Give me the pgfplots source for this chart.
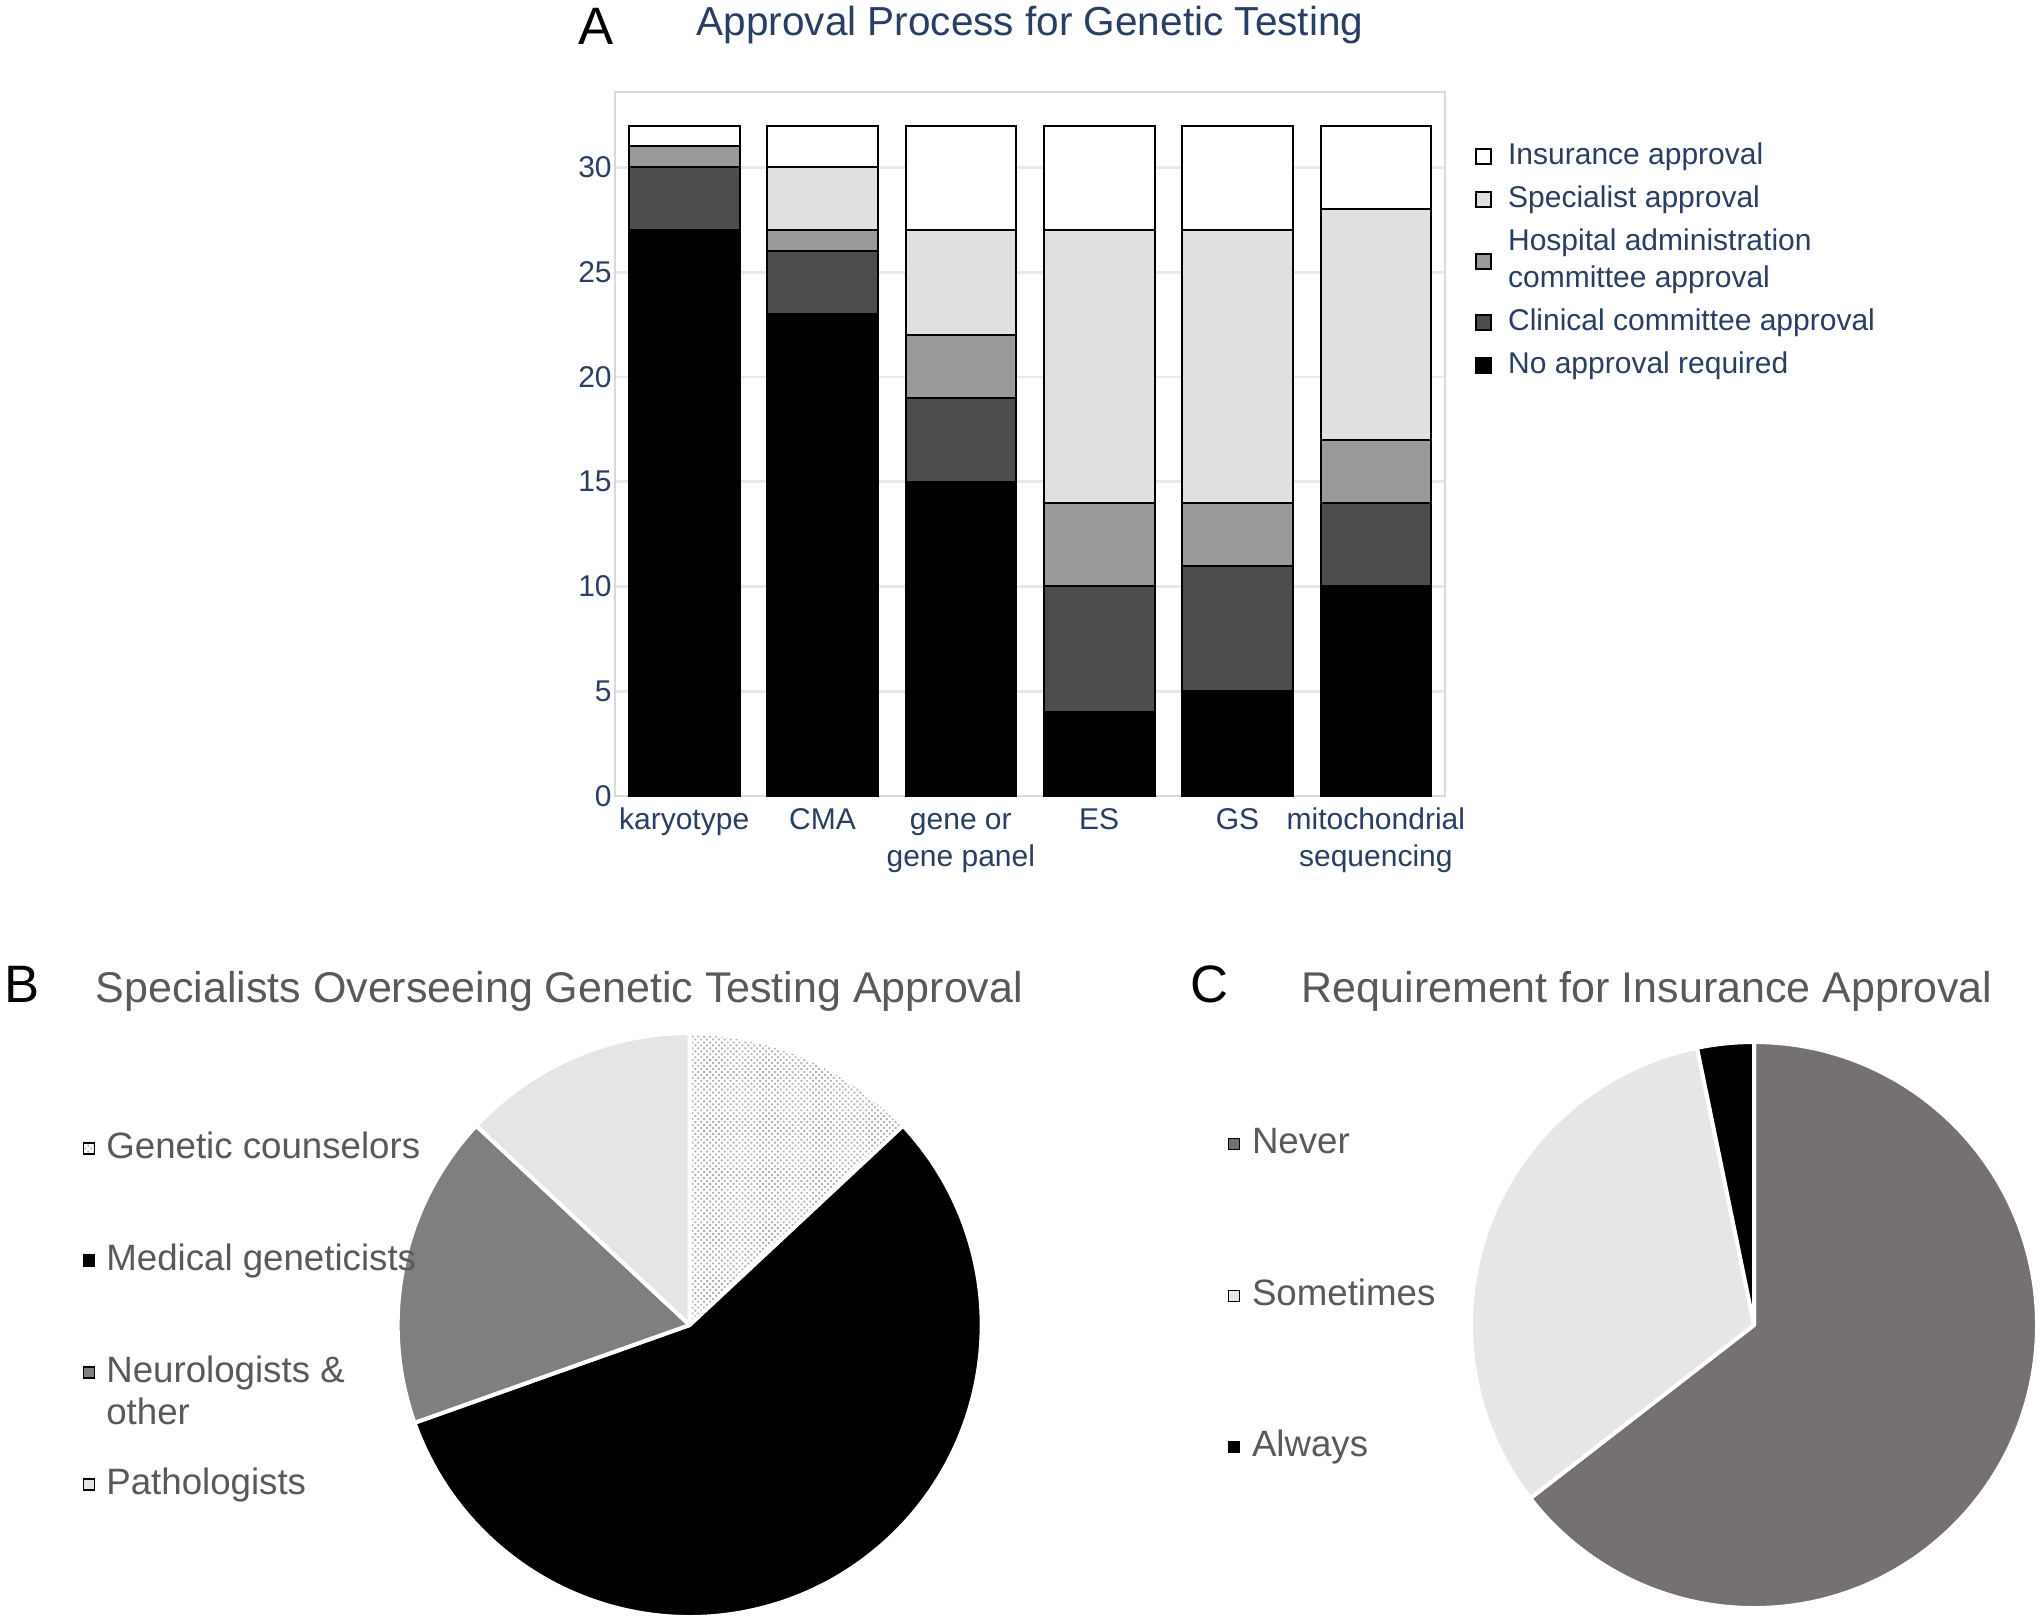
\documentclass[border=0pt]{standalone}
\usepackage{fontspec}
\setmainfont{Liberation Sans}
\usepackage{pgfplots}
\pgfplotsset{compat=1.18}
\usepackage{pgfplotstable}
\usetikzlibrary{patterns.meta}

\definecolor{navy}{RGB}{42,61,99}
\definecolor{exgray}{RGB}{89,89,89}
\definecolor{clin}{RGB}{77,77,77}
\definecolor{hosp}{RGB}{153,153,153}
\definecolor{spec}{RGB}{224,224,224}
\definecolor{neuro}{RGB}{127,127,127}
\definecolor{pathc}{RGB}{229,229,229}
\definecolor{never}{RGB}{118,113,113}
\definecolor{somet}{RGB}{231,230,230}

\pgfplotstableread{
x noapp clin hosp spec ins
0 27 3 1 0 1
1 23 3 1 3 2
2 15 4 3 5 5
3 4 6 4 13 5
4 5 6 3 13 5
5 10 4 3 11 4
}\bardata

\pgfplotstableread{
value
3
13
4
3
}\pieBdata

\pgfplotstableread{
value
20
10
1
}\pieCdata

\tikzset{
 pieB0/.style={fill=white, postaction={pattern={Dots[distance=1.25pt,radius=0.4pt,angle=45]}, pattern color=gray!60}},
 pieB1/.style={fill=black},
 pieB2/.style={fill=neuro},
 pieB3/.style={fill=pathc},
 pieC0/.style={fill=never},
 pieC1/.style={fill=somet},
 pieC2/.style={fill=black},
}

\newcommand{\drawpie}[4]{%
  \pgfmathsetmacro\pietotal{0}%
  \pgfplotsforeachungrouped \i in {0,...,#3}{%
    \pgfplotstablegetelem{\i}{value}\of#1%
    \pgfmathsetmacro\pietotal{\pietotal+\pgfplotsretval}%
  }%
  \def\curang{90}%
  \pgfplotsforeachungrouped \i in {0,...,#3}{%
    \pgfplotstablegetelem{\i}{value}\of#1%
    \pgfmathsetmacro\nextang{\curang-\pgfplotsretval/\pietotal*360}%
    \edef\temp{\noexpand\fill[#2\i] (axis cs:0,0) -- +(\curang:#4) arc[start angle=\curang, end angle=\nextang, radius=#4] -- cycle;
      \noexpand\draw[white, line width=1.2pt, line join=round] (axis cs:0,0) -- +(\curang:#4) arc[start angle=\curang, end angle=\nextang, radius=#4] -- cycle;}%
    \temp
    \let\curang\nextang
  }%
}

\begin{document}
\begin{tikzpicture}
\path (0pt,0pt) rectangle (612pt,-485.1pt);

% ---------- Panel A ----------
\node[anchor=base, inner sep=0pt, font=\fontsize{15.8}{18}\selectfont] at (178.8pt,-13.2pt) {A};
\node[anchor=base, inner sep=0pt, font=\fontsize{12.15}{14}\selectfont, text=navy] at (309pt,-10.5pt) {Approval Process for Genetic Testing};

\begin{axis}[
  at={(184.5pt,-27.6pt)}, anchor=north west,
  width=249pt, height=211.2pt, scale only axis,
  ybar stacked, bar width=0.8,
  xmin=-0.5, xmax=5.5, ymin=0, ymax=33.6,
  xtick=data,
  xticklabels={karyotype, CMA, {\begin{tabular}[t]{@{}c@{}}gene or\\gene panel\end{tabular}}, ES, GS, {\begin{tabular}[t]{@{}c@{}}mitochondrial\\sequencing\end{tabular}}},
  ytick={0,5,...,30},
  ymajorgrids, major grid style={draw=gray!18, line width=0.8pt},
  axis line style={draw=gray!30, line width=0.6pt},
  major tick length=0pt, tick style={draw=none},
  ticklabel style={font=\fontsize{9}{11.1}\selectfont, text=navy},
  /pgf/number format/assume math mode=true,
  yticklabel style={inner sep=0.8pt},
  xticklabel style={anchor=base, yshift=-9.9pt, inner sep=0pt},
  legend style={at={(1.0355,0.9353)}, anchor=north west, draw=none, fill=none, inner sep=0pt,
    row sep=1.8pt, column sep=4.8pt, cells={anchor=west},
    nodes={inner sep=0pt, text depth=, text height=, text=navy, font=\fontsize{9}{11.1}\selectfont}},
  legend image code/.code={\draw[#1, draw=black, line width=0.6pt] (0pt,-2.25pt) rectangle (4.5pt,2.25pt);},
  reverse legend,
  every axis plot/.append style={draw=black, line width=0.6pt},
]
\addplot[fill=black] table[x=x, y=noapp]{\bardata};
\addlegendentry{\strut No approval required}
\addplot[fill=clin] table[x=x, y=clin]{\bardata};
\addlegendentry{\strut Clinical committee approval}
\addplot[fill=hosp] table[x=x, y=hosp]{\bardata};
\addlegendentry{\begin{tabular}{@{}l@{}}Hospital administration\\committee approval\end{tabular}}
\addplot[fill=spec] table[x=x, y=spec]{\bardata};
\addlegendentry{\strut Specialist approval}
\addplot[fill=white] table[x=x, y=ins]{\bardata};
\addlegendentry{\strut Insurance approval}
\end{axis}

% ---------- Panel B ----------
\node[anchor=base west, inner sep=0pt, font=\fontsize{15.8}{18}\selectfont] at (1.2pt,-300.6pt) {B};
\node[anchor=base west, inner sep=0pt, font=\fontsize{12.9}{15}\selectfont, text=exgray] at (28.5pt,-300.8pt) {Specialists Overseeing Genetic Testing Approval};

\begin{axis}[
  at={(206.9pt,-397.5pt)}, anchor=center,
  width=175.2pt, height=175.2pt, scale only axis,
  xmin=-1, xmax=1, ymin=-1, ymax=1, axis lines=none, clip=false,
  legend style={at={(-0.5405,0.8326)}, anchor=north west, draw=none, fill=none, inner sep=0pt,
    row sep=23.3pt, column sep=3.4pt, cells={anchor=west},
    nodes={inner sep=0pt, text height=8pt, text depth=2.3pt, text=exgray, font=\fontsize{11}{12.6}\selectfont}},
  legend image code/.code={\fill[#1] (0pt,-1.65pt) rectangle (3.3pt,1.65pt);},
]
\drawpie{\pieBdata}{pieB}{3}{87.6pt}
\addlegendimage{pieB0}\addlegendentry{Genetic counselors}
\addlegendimage{pieB1}\addlegendentry{Medical geneticists}
\addlegendimage{pieB2}\addlegendentry{\begin{tabular}[t]{@{}l@{}}Neurologists \&\\other\end{tabular}}
\addlegendimage{pieB3}\addlegendentry{Pathologists}
\end{axis}

% ---------- Panel C ----------
\node[anchor=base west, inner sep=0pt, font=\fontsize{15.8}{18}\selectfont] at (357pt,-300.6pt) {C};
\node[anchor=base west, inner sep=0pt, font=\fontsize{12.9}{15}\selectfont, text=exgray] at (390.3pt,-300.8pt) {Requirement for Insurance Approval};

\begin{axis}[
  at={(526.2pt,-397.5pt)}, anchor=center,
  width=169.8pt, height=169.8pt, scale only axis,
  xmin=-1, xmax=1, ymin=-1, ymax=1, axis lines=none, clip=false,
  legend style={at={(-0.4311,0.851)}, anchor=north west, draw=none, fill=none, inner sep=0pt,
    row sep=35.15pt, column sep=3.6pt, cells={anchor=west},
    nodes={inner sep=0pt, text height=8pt, text depth=2.3pt, text=exgray, font=\fontsize{11}{12.6}\selectfont}},
  legend image code/.code={\fill[#1] (0pt,-1.65pt) rectangle (3.3pt,1.65pt);},
]
\drawpie{\pieCdata}{pieC}{2}{84.9pt}
\addlegendimage{pieC0}\addlegendentry{Never}
\addlegendimage{pieC1}\addlegendentry{Sometimes}
\addlegendimage{pieC2}\addlegendentry{Always}
\end{axis}

\pgfresetboundingbox
\path (0pt,0pt) rectangle (612pt,-485.1pt);
\end{tikzpicture}
\end{document}
